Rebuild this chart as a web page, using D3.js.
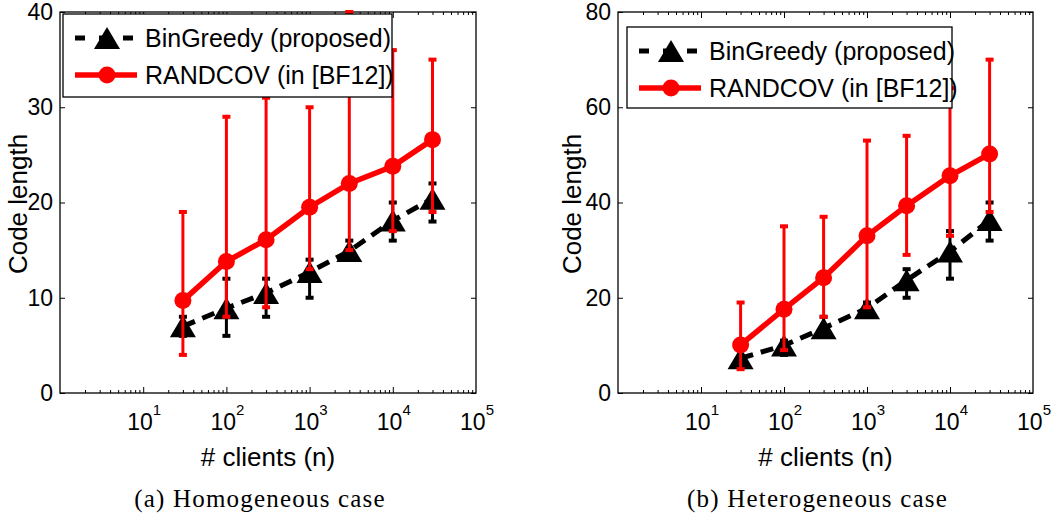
<!DOCTYPE html>
<html lang="en">
<head>
<meta charset="utf-8">
<title>code length vs clients</title>
<script type="text/javascript" src="https://d3js.org/d3.v7.min.js"></script>
<style>
    body { margin: 0; background: white; }
    .axis path { display: none; }
    .axis line { stroke: black; stroke-width: 1; }
    .axis text { font-family: "Liberation Sans", Arial, sans-serif; font-size: 23px; fill: black; }
    .lab { font-family: "Liberation Sans", Arial, sans-serif; font-size: 25px; fill: black; }
    .cap { font-family: "Liberation Serif", "Times New Roman", serif; font-size: 25px; letter-spacing: 1.2px; fill: black; }
</style>
</head>
<body>
<div id="chart"></div>
<script type="text/javascript">

// x values (number of clients), same for both panels
var clients = [30, 100, 300, 1000, 3000, 10000, 30000];

// (a) homogeneous
var homoGreedy   = [7.0, 8.9, 10.5, 12.7, 14.9, 18.1, 20.4];
var homoGreedyLo = [6, 6, 8, 10, 14, 16, 18];
var homoGreedyHi = [8, 12, 12, 14, 16, 20, 22];
var homoRand     = [9.7, 13.8, 16.1, 19.5, 22.0, 23.8, 26.6];
var homoRandLo   = [4, 8, 9, 13, 15, 17, 19];
var homoRandHi   = [19, 29, 31, 30, 40, 36, 35];

// (b) heterogeneous
var hetGreedy   = [7.3, 10.0, 13.6, 17.8, 23.7, 29.7, 36.3];
var hetGreedyLo = [6, 8, 12, 17, 20, 24, 32];
var hetGreedyHi = [9, 11, 16, 19, 26, 34, 40];
var hetRand     = [10.1, 17.6, 24.2, 33.0, 39.3, 45.6, 50.2];
var hetRandLo   = [5, 9, 16, 18, 29, 33, 38];
var hetRandHi   = [19, 35, 37, 53, 54, 64, 70];

var yTicksA = [0, 10, 20, 30, 40];
var yTicksB = [0, 20, 40, 60, 80];
var xDecades = [1, 2, 3, 4, 5];
var seriesNames = ["BinGreedy (proposed)", "RANDCOV (in [BF12])"];
var captions = ["(a) Homogeneous case", "(b) Heterogeneous case"];

var svg = d3.select("#chart").append("svg")
    .attr("width", 1055)
    .attr("height", 519);

function makeRows(lo, mid, hi) {
    return clients.map(function (c, i) {
        return {x: c, y: mid[i], lo: lo[i], hi: hi[i]};
    });
}

function drawPanel(p) {
    var x = d3.scaleLog().domain([1, 1e5]).range([p.left, p.right]);
    var y = d3.scaleLinear().domain([0, p.ymax]).range([p.bottom, p.top]);
    var g = svg.append("g");

    // minor ticks 2..9 x 10^k
    var minor = [];
    for (var k = 0; k < 5; k++) {
        for (var m = 2; m < 10; m++) minor.push(m * Math.pow(10, k));
    }
    var major = [10, 100, 1000, 10000];

    g.append("g").attr("class", "axis")
        .attr("transform", "translate(0," + p.bottom + ")")
        .call(d3.axisBottom(x).tickValues(minor).tickSize(-3).tickFormat(""));
    g.append("g").attr("class", "axis")
        .attr("transform", "translate(0," + p.bottom + ")")
        .call(d3.axisBottom(x).tickValues(major).tickSize(-6).tickFormat(""));
    g.append("g").attr("class", "axis")
        .attr("transform", "translate(0," + p.top + ")")
        .call(d3.axisTop(x).tickValues(minor).tickSize(-3).tickFormat(""));
    g.append("g").attr("class", "axis")
        .attr("transform", "translate(0," + p.top + ")")
        .call(d3.axisTop(x).tickValues(major).tickSize(-6).tickFormat(""));

    // x tick labels with superscripts
    var xl = g.selectAll(".xlab").data(xDecades).enter().append("text")
        .attr("class", "lab")
        .style("font-size", "23px")
        .attr("x", function (d) { return x(Math.pow(10, d)) + 1; })
        .attr("y", p.bottom + 37)
        .attr("text-anchor", "middle");
    xl.append("tspan").text("10");
    xl.append("tspan").attr("dy", -15).style("font-size", "15px")
        .text(function (d) { return d; });

    g.append("g").attr("class", "axis")
        .attr("transform", "translate(" + p.left + ",0)")
        .call(d3.axisLeft(y).tickValues(p.yticks).tickSize(-5).tickPadding(7));
    g.append("g").attr("class", "axis")
        .attr("transform", "translate(" + p.right + ",0)")
        .call(d3.axisRight(y).tickValues(p.yticks).tickSize(-5).tickFormat(""));

    g.append("rect")
        .attr("x", p.left).attr("y", p.top)
        .attr("width", p.right - p.left).attr("height", p.bottom - p.top)
        .attr("fill", "none").attr("stroke", "black").attr("stroke-width", 1.3);

    var line = d3.line()
        .x(function (d) { return x(d.x); })
        .y(function (d) { return y(d.y); });

    function errBars(data, color) {
        var eb = g.append("g");
        eb.selectAll(".v").data(data).enter().append("line")
            .attr("x1", function (d) { return x(d.x); })
            .attr("x2", function (d) { return x(d.x); })
            .attr("y1", function (d) { return y(d.lo); })
            .attr("y2", function (d) { return y(d.hi); })
            .attr("stroke", color).attr("stroke-width", 3);
        ["lo", "hi"].forEach(function (key) {
            eb.selectAll(".c" + key).data(data).enter().append("line")
                .attr("x1", function (d) { return x(d.x) - 4; })
                .attr("x2", function (d) { return x(d.x) + 4; })
                .attr("y1", function (d) { return y(d[key]); })
                .attr("y2", function (d) { return y(d[key]); })
                .attr("stroke", color).attr("stroke-width", 4);
        });
    }

    var tri = "M0,-11L13,11L-13,11Z";

    // black BinGreedy series
    var greedy = makeRows(p.gLo, p.g, p.gHi);
    g.append("path").datum(greedy)
        .attr("d", line)
        .attr("fill", "none").attr("stroke", "black")
        .attr("stroke-width", 5).attr("stroke-dasharray", "13,8");
    errBars(greedy, "black");
    g.selectAll(".tri").data(greedy).enter().append("path")
        .attr("d", tri)
        .attr("transform", function (d) { return "translate(" + x(d.x) + "," + y(d.y) + ")"; })
        .attr("fill", "black");

    // red RANDCOV series
    var rand = makeRows(p.rLo, p.r, p.rHi);
    g.append("path").datum(rand)
        .attr("d", line)
        .attr("fill", "none").attr("stroke", "red")
        .attr("stroke-width", 5.5);
    errBars(rand, "red");
    g.selectAll(".dot").data(rand).enter().append("circle")
        .attr("cx", function (d) { return x(d.x); })
        .attr("cy", function (d) { return y(d.y); })
        .attr("r", 8.5)
        .attr("fill", "red");

    // legend on top
    var L = p.legend;
    g.append("rect")
        .attr("x", L.x).attr("y", L.y).attr("width", L.w).attr("height", L.h)
        .attr("fill", "white").attr("stroke", "black").attr("stroke-width", 1.3);
    var r1 = L.y + 24, r2 = L.y + 61;
    g.append("line")
        .attr("x1", L.x + 12).attr("x2", L.x + 74).attr("y1", r1).attr("y2", r1)
        .attr("stroke", "black").attr("stroke-width", 5).attr("stroke-dasharray", "10,14");
    g.append("path").attr("d", tri)
        .attr("transform", "translate(" + (L.x + 44) + "," + r1 + ")")
        .attr("fill", "black");
    g.append("line")
        .attr("x1", L.x + 12).attr("x2", L.x + 74).attr("y1", r2).attr("y2", r2)
        .attr("stroke", "red").attr("stroke-width", 5.5);
    g.append("circle").attr("cx", L.x + 44).attr("cy", r2).attr("r", 8.5).attr("fill", "red");
    g.append("text").attr("class", "lab")
        .attr("x", L.x + 82).attr("y", r1 + 9).text(seriesNames[0]);
    g.append("text").attr("class", "lab")
        .attr("x", L.x + 82).attr("y", r2 + 9).text(seriesNames[1]);

    // axis labels
    var cx = (p.left + p.right) / 2;
    g.append("text").attr("class", "lab")
        .style("font-size", "26px")
        .attr("x", cx).attr("y", 466)
        .attr("text-anchor", "middle")
        .text("# clients (n)");
    g.append("text").attr("class", "lab")
        .style("font-size", "26px")
        .attr("transform", "translate(" + p.ylabX + ",204) rotate(-90)")
        .attr("text-anchor", "middle")
        .text("Code length");

    g.append("text").attr("class", "cap")
        .attr("x", cx - 8).attr("y", 507)
        .attr("text-anchor", "middle")
        .text(p.caption);
}

drawPanel({
    left: 60, right: 476, top: 12, bottom: 393, ymax: 40, yticks: yTicksA,
    g: homoGreedy, gLo: homoGreedyLo, gHi: homoGreedyHi,
    r: homoRand, rLo: homoRandLo, rHi: homoRandHi,
    legend: {x: 63, y: 14, w: 329, h: 83},
    ylabX: 27,
    caption: captions[0]
});

drawPanel({
    left: 618, right: 1033, top: 12, bottom: 393, ymax: 80, yticks: yTicksB,
    g: hetGreedy, gLo: hetGreedyLo, gHi: hetGreedyHi,
    r: hetRand, rLo: hetRandLo, rHi: hetRandHi,
    legend: {x: 627, y: 27, w: 325, h: 81},
    ylabX: 581,
    caption: captions[1]
});

</script>
</body>
</html>
